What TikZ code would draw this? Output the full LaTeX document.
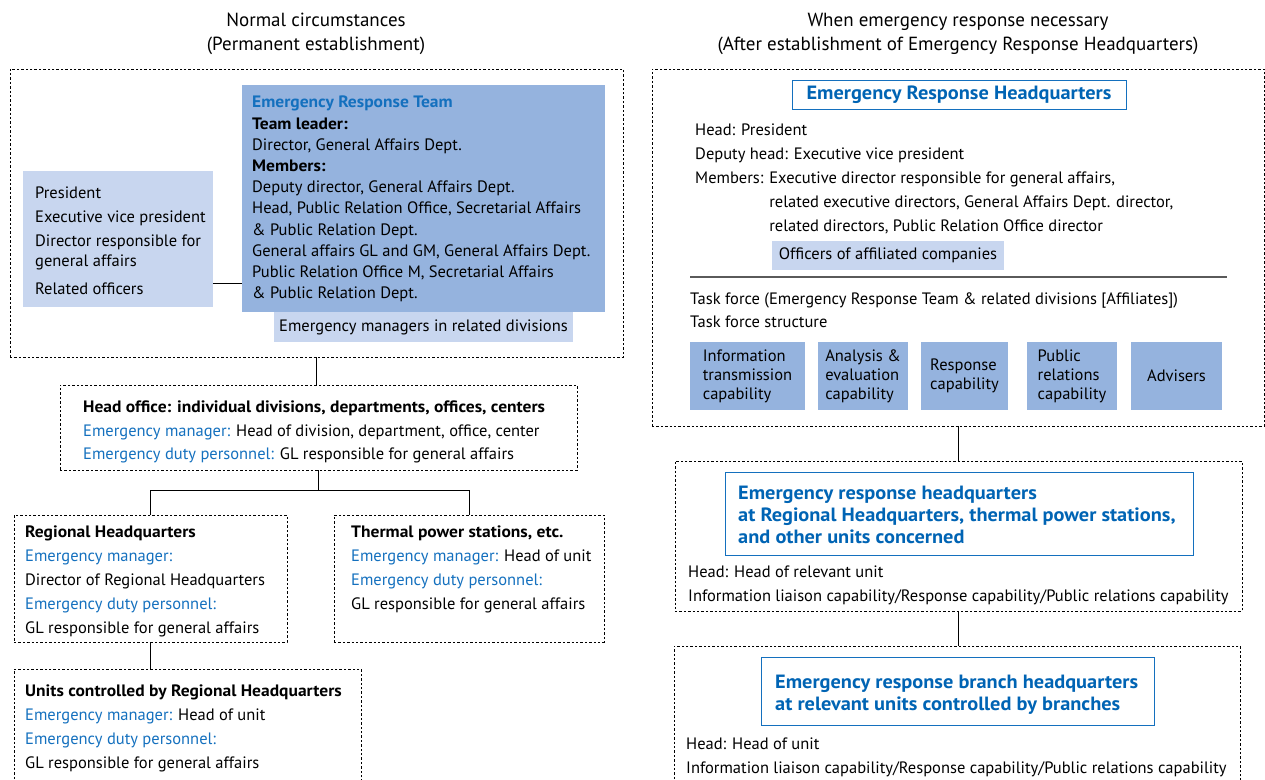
\documentclass[tikz,border=0pt]{standalone}
\usepackage{fontspec}
\setmainfont{PT Sans}[BoldFeatures={FakeStretch=1.06}]
\definecolor{teamfill}{RGB}{149,179,222}
\definecolor{palefill}{RGB}{200,214,239}
\definecolor{labelblue}{RGB}{20,112,190}
\definecolor{headblue}{RGB}{0,100,180}
\definecolor{rulegray}{RGB}{90,90,90}
% box placed by its corners (x1,y1) and (x2,y2)
\newcommand{\cornerbox}[6]{%
  \node[#6, anchor=north west, minimum width={#4pt-#2pt}, minimum height={#5pt-#3pt}] (#1) at (#2,#3) {};}
\newcommand{\lbl}[1]{\textcolor{labelblue}{#1}}
\begin{document}
\begin{tikzpicture}[x=1pt,y=-1pt,
  dbox/.style={draw, dash pattern=on 2.4pt off 2pt, line width=0.8pt, inner sep=0pt, outer sep=0pt},
  teambox/.style={fill=teamfill, inner sep=0pt, outer sep=0pt},
  palebox/.style={fill=palefill, inner sep=0pt, outer sep=0pt},
  framebox/.style={draw=labelblue, line width=1pt, fill=white, inner sep=0pt, outer sep=0pt},
  body/.style={anchor=north west, inner sep=0pt, align=left, font=\fontsize{16.5}{24}\selectfont},
  heading/.style={align=center, inner sep=0pt, font=\fontsize{19}{24}\selectfont},
  framedtitle/.style={anchor=north west, inner sep=0pt, align=left, text=headblue,
    font=\fontsize{19.2}{22}\selectfont\bfseries},
  captext/.style={align=left, inner sep=0pt, font=\fontsize{16.5}{19}\selectfont},
  link/.style={line width=0.9pt}]
\clip (0,0) rectangle (1265,779);
\useasboundingbox (0,0) rectangle (1265,779);

% ---------------- column headings ----------------
\node[heading] (lhead) at (316,34) {Normal circumstances\\(Permanent establishment)};
\node[heading] (rhead) at (958,34) {When emergency response necessary\\(After establishment of Emergency Response Headquarters)};

% ---------------- normal circumstances ----------------
\cornerbox{normal}{10}{69}{623}{357}{dbox}
\cornerbox{team}{242}{85}{605}{312}{teambox}
\node[body, font=\fontsize{16.5}{21.2}\selectfont] (teamtext) at (252,96)
  {\lbl{\bfseries Emergency Response Team}\\
   \textbf{Team leader:}\\
   Director, General Affairs Dept.\\
   \textbf{Members:}\\
   Deputy director, General Affairs Dept.\\
   Head, Public Relation Office, Secretarial Affairs\\
   \& Public Relation Dept.\\
   General affairs GL and GM, General Affairs Dept.\\
   Public Relation Office M, Secretarial Affairs\\
   \& Public Relation Dept.};
\cornerbox{officers}{23}{171}{213}{307}{palebox}
\node[body] (officerstext) at (35,187)
  {President\\
   Executive vice president\\
   Director responsible for\\[-4pt]
   general affairs\\[4pt]
   Related officers};
\coordinate (linkrow) at (0,283);
\draw[link] (officers.east |- linkrow) -- (team.west |- linkrow);
\cornerbox{managers}{274}{312}{573}{342}{palebox}
\node[body, anchor=center] (managerstext) at (managers.center) {Emergency managers in related divisions};

% head office
\cornerbox{headoffice}{60}{385}{577}{470}{dbox}
\node[body, font=\fontsize{16.5}{23.5}\selectfont] (headofficetext) at (83,401)
  {\textbf{Head office: individual divisions, departments, offices, centers}\\
   \lbl{Emergency manager:} Head of division, department, office, center\\
   \lbl{Emergency duty personnel:} GL responsible for general affairs};
\draw[link] (normal.south) -- (normal.south |- headoffice.north);

% regional headquarters and thermal stations
\cornerbox{regional}{14}{515}{287}{642}{dbox}
\node[body] (regionaltext) at (25,526)
  {\textbf{Regional Headquarters}\\
   \lbl{Emergency manager:}\\
   Director of Regional Headquarters\\
   \lbl{Emergency duty personnel:}\\
   GL responsible for general affairs};
\cornerbox{thermal}{334}{515}{604}{642}{dbox}
\node[body] (thermaltext) at (351,526)
  {\textbf{Thermal power stations, etc.}\\
   \lbl{Emergency manager:} Head of unit\\
   \lbl{Emergency duty personnel:}\\
   GL responsible for general affairs};
\coordinate (split) at (0,490);
\draw[link] (headoffice.south) -- (headoffice.south |- split);
\draw[link] (regional.north) -- (regional.north |- split) -- (thermal.north |- split) -- (thermal.north);

% units under regional headquarters
\cornerbox{units}{14}{669}{361}{800}{dbox}
\node[body] (unitstext) at (25,685)
  {\textbf{Units controlled by Regional Headquarters}\\
   \lbl{Emergency manager:} Head of unit\\
   \lbl{Emergency duty personnel:}\\
   GL responsible for general affairs};
\draw[link] (regional.south) -- (regional.south |- units.north);

% ---------------- emergency response ----------------
\cornerbox{erhq}{652}{69}{1264}{426}{dbox}
\cornerbox{erhqtitle}{792}{80}{1126}{109}{framebox}
\node[inner sep=0pt, text=headblue, font=\fontsize{19.2}{22}\selectfont\bfseries] (erhqtitletext) at (erhqtitle.center) {Emergency Response Headquarters};
\node[body] (erhqtext) at (695,124)
  {Head: President\\
   Deputy head: Executive vice president\\
   Members: Executive director responsible for general affairs,\\
   \hphantom{Members: }related executive directors, General Affairs Dept. director,\\
   \hphantom{Members: }related directors, Public Relation Office director};
\cornerbox{affiliates}{772}{241}{1004}{270}{palebox}
\node[body, anchor=center] (affiliatestext) at (affiliates.center) {Officers of affiliated companies};
\coordinate (rulestart) at (690,277);
\coordinate (ruleend) at (1227,277);
\draw[rulegray, line width=1.1pt] (rulestart) -- (ruleend);
\node[body, font=\fontsize{16.5}{23}\selectfont] (taskforce) at (690,293)
  {Task force (Emergency Response Team \& related divisions [Affiliates])\\
   Task force structure};
\cornerbox{capinfo}{690}{342}{805}{410}{teambox}
\cornerbox{capanalysis}{818}{342}{908}{410}{teambox}
\cornerbox{capresponse}{921}{342}{1008}{410}{teambox}
\cornerbox{cappublic}{1027}{342}{1117}{410}{teambox}
\cornerbox{capadvisers}{1131}{342}{1222}{410}{teambox}
\node[captext] (capinfotext) at (capinfo.center) {Information\\transmission\\capability};
\node[captext] (capanalysistext) at (capanalysis.center) {Analysis \&\\evaluation\\capability};
\node[captext] (capresponsetext) at (capresponse.center) {Response\\capability};
\node[captext] (cappublictext) at (cappublic.center) {Public\\relations\\capability};
\node[captext] (capadviserstext) at (capadvisers.center) {Advisers};

% regional emergency headquarters
\cornerbox{localhq}{675}{461}{1242}{611}{dbox}
\cornerbox{localtitle}{725}{472}{1193}{555}{framebox}
\node[framedtitle] (localtitletext) at (738,486)
  {Emergency response headquarters\\
   at Regional Headquarters, thermal power stations,\\
   and other units concerned};
\node[body] (localtext) at (688,566)
  {Head: Head of relevant unit\\
   Information liaison capability/Response capability/Public relations capability};
\draw[link] (erhq.south) -- (erhq.south |- localhq.north);

% branch emergency headquarters
\cornerbox{branchhq}{674}{646}{1240}{800}{dbox}
\cornerbox{branchtitle}{761}{657}{1154}{725}{framebox}
\node[framedtitle] (branchtitletext) at (775,675)
  {Emergency response branch headquarters\\
   at relevant units controlled by branches};
\node[body] (branchtext) at (686,738)
  {Head: Head of unit\\
   Information liaison capability/Response capability/Public relations capability};
\draw[link] (localhq.south) -- (localhq.south |- branchhq.north);
\end{tikzpicture}
\end{document}
